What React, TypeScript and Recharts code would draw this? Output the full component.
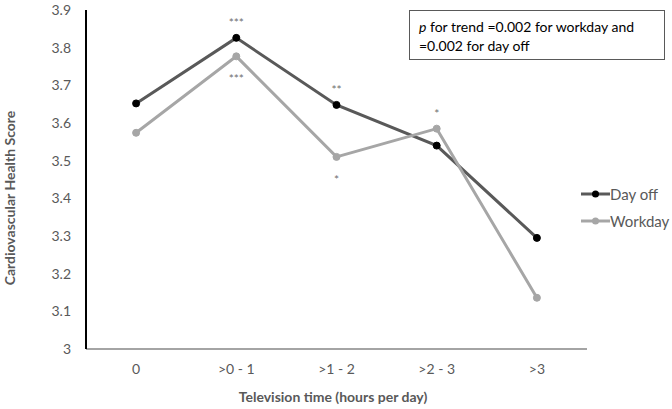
import { LineChart, Line, XAxis, YAxis, LabelList } from "recharts";

const categories = ["0", ">0 - 1", ">1 - 2", ">2 - 3", ">3"];
const dayOff = [3.652, 3.826, 3.648, 3.54, 3.295];
const workday = [3.574, 3.777, 3.51, 3.585, 3.136];
const dayOffStars = ["", "***", "**", "", ""];
const workdayStars = ["", "***", "*", "*", ""];
const yTicks = [3, 3.1, 3.2, 3.3, 3.4, 3.5, 3.6, 3.7, 3.8, 3.9];
const seriesNames = ["Day off", "Workday"];

const data = categories.map((c, i) => ({
  cat: c,
  dayOff: dayOff[i],
  workday: workday[i],
}));

const FONT = "Lato, 'Open Sans', sans-serif";
const TXT = "#595959";

// which side of the point the stars go (-1 above, 1 below)
const workdaySide = [0, 1, 1, -1, 0];

const starLabel = (stars: string[], side: number[] | null) => (props: any) => {
  const { x, y, index } = props;
  const s = stars[index];
  if (!s) return null;
  const below = side ? side[index] > 0 : false;
  return (
    <text
      x={x}
      y={below ? y + 27 : y - 11}
      textAnchor="middle"
      fontSize={12}
      fill="#6f6f6f"
      fontFamily={FONT}
    >
      {s}
    </text>
  );
};

const legendStyle = [
  { line: "#595959", dot: "#000000" },
  { line: "#a6a6a6", dot: "#a6a6a6" },
];

export default function App() {
  return (
    <div style={{ position: "absolute", left: 0, top: 0, width: 672, height: 409, background: "#fff" }}>
      <LineChart
        width={672}
        height={409}
        data={data}
        margin={{ top: 10, right: 85, bottom: 0, left: 0 }}
      >
        <XAxis
          dataKey="cat"
          scale="band"
          height={60}
          axisLine={{ stroke: "#868686", strokeWidth: 1.5 }}
          tickLine={false}
          tick={{ fill: TXT, fontSize: 14, fontFamily: FONT }}
          tickMargin={9}
          label={{
            content: () => (
              <text
                x={333}
                y={402}
                textAnchor="middle"
                fontFamily={FONT}
                fontWeight="bold"
                fontSize={14}
                fill={TXT}
              >
                Television time (hours per day)
              </text>
            ),
          }}
        />
        <YAxis
          width={86}
          domain={[3, 3.9]}
          ticks={yTicks}
          interval={0}
          axisLine={{ stroke: "#000", strokeWidth: 2 }}
          tickLine={false}
          tick={{ fill: TXT, fontSize: 14, fontFamily: FONT }}
          tickMargin={9}
          tickFormatter={(v: number) => String(v)}
          label={{
            content: () => (
              <text
                x={15}
                y={198}
                transform="rotate(-90 15 198)"
                textAnchor="middle"
                fontFamily={FONT}
                fontWeight="bold"
                fontSize={14}
                fill={TXT}
              >
                Cardiovascular Health Score
              </text>
            ),
          }}
        />
        <Line
          dataKey="dayOff"
          name={seriesNames[0]}
          type="linear"
          stroke="#595959"
          strokeWidth={3}
          dot={{ r: 3.5, fill: "#000", stroke: "#000", strokeWidth: 1 }}
          isAnimationActive={false}
        >
          <LabelList dataKey="dayOff" content={starLabel(dayOffStars, null)} />
        </Line>
        <Line
          dataKey="workday"
          name={seriesNames[1]}
          type="linear"
          stroke="#a6a6a6"
          strokeWidth={3}
          dot={{ r: 3.5, fill: "#a6a6a6", stroke: "#a6a6a6", strokeWidth: 1 }}
          isAnimationActive={false}
        >
          <LabelList dataKey="workday" content={starLabel(workdayStars, workdaySide)} />
        </Line>
      </LineChart>
      <div
        style={{
          position: "absolute",
          left: 581,
          top: 180,
          fontFamily: FONT,
          fontSize: 15,
          color: TXT,
        }}
      >
        {seriesNames.map((name, i) => (
          <div key={name} style={{ display: "flex", alignItems: "center", height: 27 }}>
            <svg width={29} height={10}>
              <line x1={0} y1={5} x2={29} y2={5} stroke={legendStyle[i].line} strokeWidth={3} />
              <circle cx={14.5} cy={5} r={3.5} fill={legendStyle[i].dot} />
            </svg>
            <span>{name}</span>
          </div>
        ))}
      </div>
      <div
        style={{
          position: "absolute",
          left: 409,
          top: 10,
          width: 256,
          height: 50,
          border: "1px solid #595959",
          boxSizing: "border-box",
          padding: "6px 0 0 9px",
          fontFamily: FONT,
          fontSize: 14,
          lineHeight: "19px",
          color: "#000",
        }}
      >
        <i>p</i> for trend =0.002 for workday and
        <br />
        =0.002 for day off
      </div>
    </div>
  );
}
